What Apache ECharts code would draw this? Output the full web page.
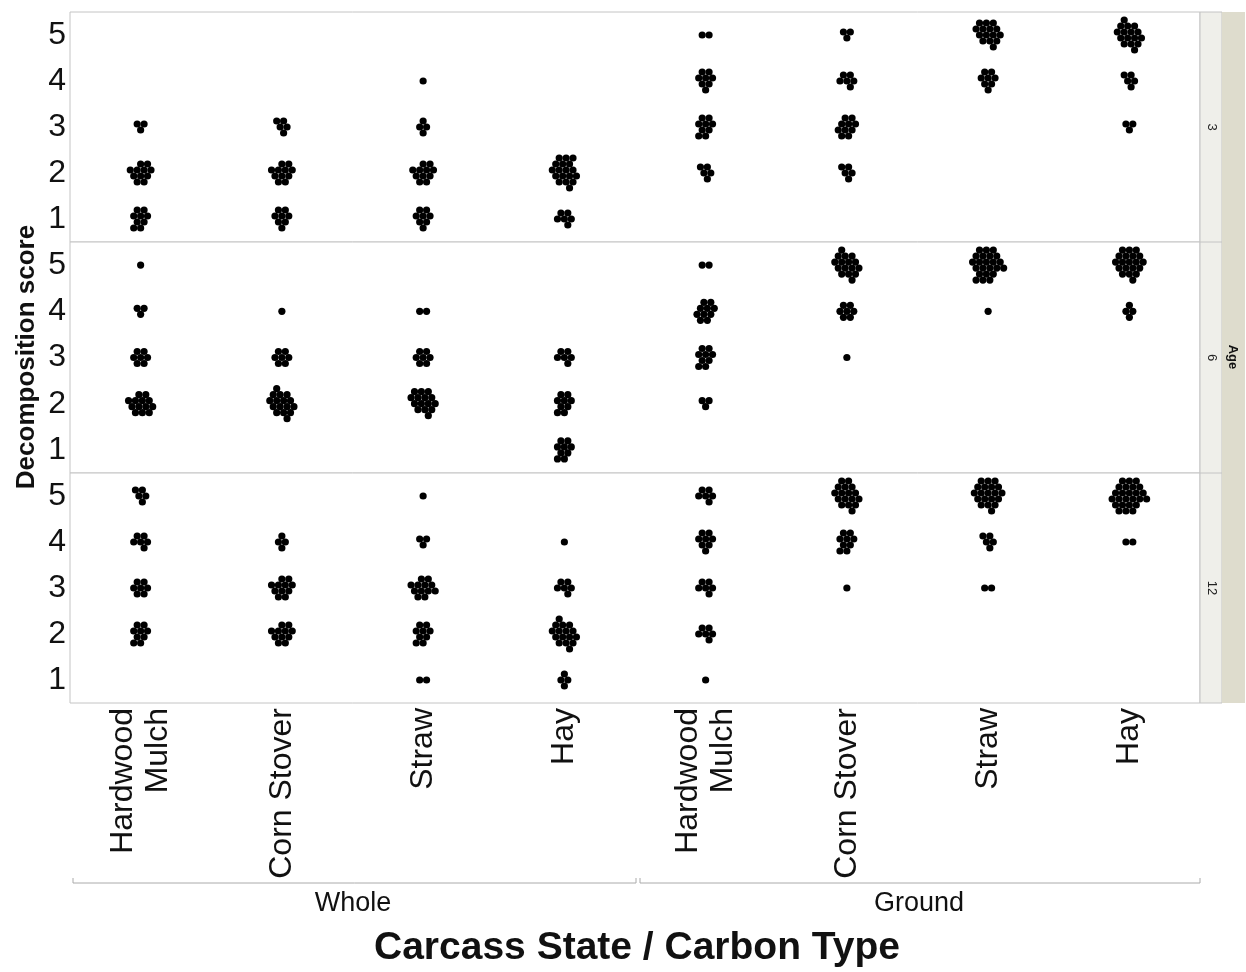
<!DOCTYPE html>
<html><head><meta charset="utf-8">
<script src="https://cdn.jsdelivr.net/npm/echarts@6/dist/echarts.min.js"></script>
<style>html,body{margin:0;padding:0;background:#fff}#c{width:1246px;height:972px}</style>
</head><body><div id="c"></div>
<script>
// ---- data ----
const categories = ['Hardwood\nMulch','Corn Stover','Straw','Hay','Hardwood\nMulch','Corn Stover','Straw','Hay'];
const groups = ['Whole','Ground'];
const ages = ['3','6','12'];
const scoreTicks = [1,2,3,4,5];
// counts of carcasses per score [score1..score5], one row per category (Whole x4, Ground x4)
const countsAge3 = [
  [9,11,3,0,0],[8,11,5,0,0],[8,11,4,1,0],[6,18,0,0,0],
  [0,5,9,8,2],[0,5,10,6,3],[0,0,0,8,15],[0,0,3,5,16]
];
const countsAge6 = [
  [0,13,7,3,1],[0,16,7,1,0],[0,15,7,2,0],[9,9,6,0,0],
  [0,3,9,10,2],[0,0,1,7,16],[0,0,0,1,23],[0,0,0,4,20]
];
const countsAge12 = [
  [0,9,7,6,5],[0,11,11,4,0],[2,9,12,3,1],[4,16,6,1,0],
  [1,6,6,8,6],[0,0,1,9,17],[0,0,2,5,20],[0,0,0,2,25]
];
const panelCounts = [countsAge3, countsAge6, countsAge12];

// ---- beeswarm packing (hex lattice, fill order) ----
const DX = 6.9, DY = 6.0;
const packOrder = [[0,0],[1,0],[0.5,-1],[0.5,1],[-0.5,1],[-1,0],[-0.5,-1],[0,-2],[-1,-2],[-1.5,-1],[-2,0],
  [1.5,-1],[1,-2],[-1.5,1],[0.5,-3],[-1,2],[0,2],[1,2],[1.5,1],[2,0],[2.5,-1],[-0.5,-3],[-1.5,-3],[-2.5,-1],[-2,-2],
  [2,-2],[-2.5,1],[2.5,1],[1.5,-3],[-0.5,3],[0.5,3]];
function cellDots(ci, score, n){
  if(!n) return [];
  const pts = packOrder.slice(0,n);
  const xs = pts.map(p=>p[0]), ys = pts.map(p=>p[1]);
  const cx = (Math.min(...xs)+Math.max(...xs))/2, cy = (Math.min(...ys)+Math.max(...ys))/2;
  return pts.map(p=>({value:[ci, score], symbolOffset:[(p[0]-cx)*DX, -(p[1]-cy)*DY]}));
}

const FONT = "'Liberation Sans', Arial, sans-serif";
const L = 70, W = 1130;
const tops = [12, 242, 473], heights = [230, 231, 230];
const grids = [], xAxes = [], yAxes = [], series = [];
for(let p=0;p<3;p++){
  grids.push({left:L, top:tops[p], width:W, height:heights[p], show:true, borderColor:'#c4c4c4', borderWidth:1, backgroundColor:'#fff'});
  xAxes.push({type:'category', gridIndex:p, data:categories, boundaryGap:true,
    axisLine:{show:false}, axisTick:{show:false}, splitLine:{show:false},
    axisLabel: p===2 ? {show:true, rotate:90, fontSize:32, lineHeight:35, color:'#111', fontFamily:FONT, margin:5, interval:0} : {show:false}
  });
  yAxes.push({type:'value', gridIndex:p, min:0.5, max:5.5, interval:0.5,
    axisLine:{show:false}, axisTick:{show:false}, splitLine:{show:false},
    axisLabel:{fontSize:32, color:'#111', fontFamily:FONT, margin:4,
      formatter:v=> (scoreTicks.indexOf(v)>=0 ? String(v) : '')}
  });
  const data = [];
  panelCounts[p].forEach((row,ci)=>row.forEach((n,si)=>{ data.push(...cellDots(ci, scoreTicks[si], n)); }));
  series.push({type:'scatter', xAxisIndex:p, yAxisIndex:p, symbol:'circle', symbolSize:7.2,
    itemStyle:{color:'#000', opacity:1}, silent:true, animation:false, data:data});
}

const stripTexts = ages.map((a,p)=>({type:'text', x:1212, y:tops[p]+heights[p]/2, rotation:-Math.PI/2,
  style:{text:a, font:'13px '+FONT, fill:'#222', align:'center', verticalAlign:'middle'}}));

const option = {
  animation:false,
  grid:grids, xAxis:xAxes, yAxis:yAxes, series:series,
  graphic:[
    {type:'rect', shape:{x:1200, y:12, width:22, height:691}, style:{fill:'#efefea', stroke:'#c4c4c4', lineWidth:1}},
    {type:'rect', shape:{x:1222, y:12, width:23, height:691}, style:{fill:'#dedccd'}},
    {type:'line', shape:{x1:1200,y1:242,x2:1222,y2:242}, style:{stroke:'#c4c4c4', lineWidth:1}},
    {type:'line', shape:{x1:1200,y1:473,x2:1222,y2:473}, style:{stroke:'#c4c4c4', lineWidth:1}},
    ...stripTexts,
    {type:'text', x:1233, y:357, rotation:-Math.PI/2, style:{text:'Age', font:'bold 13px '+FONT, fill:'#111', align:'center', verticalAlign:'middle'}},
    {type:'polyline', shape:{points:[[73,878],[73,883],[636,883],[636,878]]}, style:{stroke:'#aaaaaa', lineWidth:1, fill:null}},
    {type:'polyline', shape:{points:[[640,878],[640,883],[1200,883],[1200,878]]}, style:{stroke:'#aaaaaa', lineWidth:1, fill:null}},
    {type:'text', x:353, y:904, style:{text:groups[0], font:'27px '+FONT, fill:'#111', align:'center', verticalAlign:'middle'}},
    {type:'text', x:919, y:904, style:{text:groups[1], font:'27px '+FONT, fill:'#111', align:'center', verticalAlign:'middle'}},
    {type:'text', x:637, y:948, style:{text:'Carcass State / Carbon Type', font:'bold 39px '+FONT, fill:'#111', align:'center', verticalAlign:'middle'}},
    {type:'text', x:27, y:357, rotation:Math.PI/2, style:{text:'Decomposition score', font:'bold 26px '+FONT, fill:'#111', align:'center', verticalAlign:'middle'}}
  ]
};
const chart = echarts.init(document.getElementById('c'), null, {renderer:'canvas'});
chart.setOption(option);
</script></body></html>
